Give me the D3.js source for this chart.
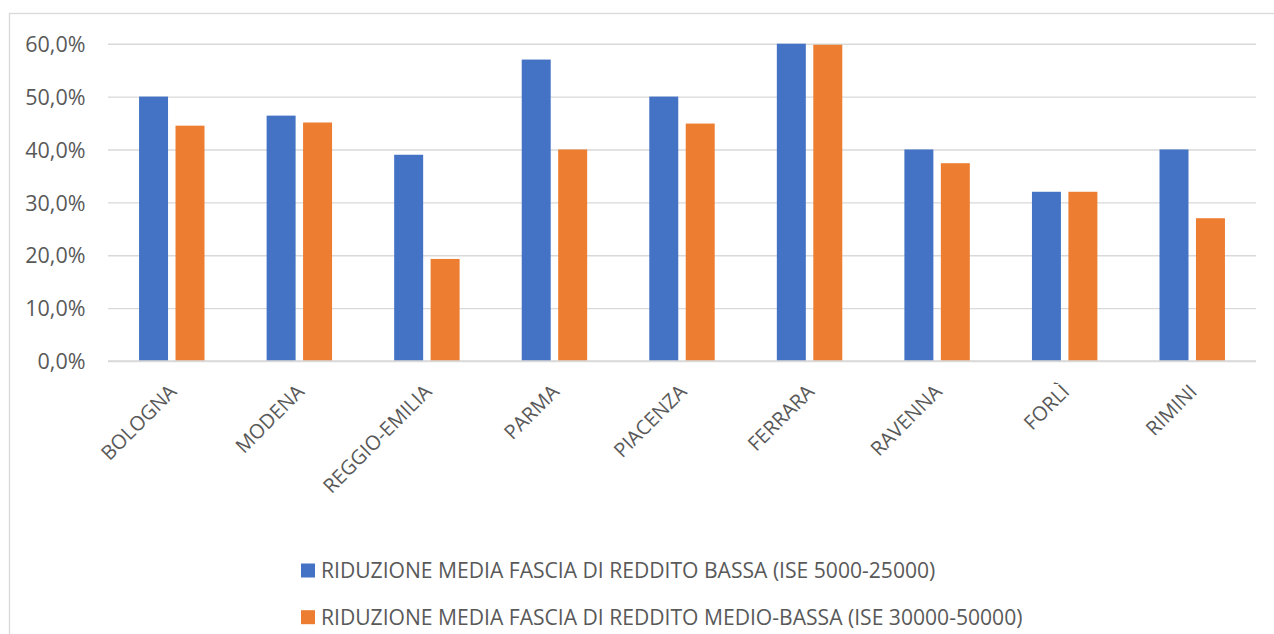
<!DOCTYPE html>
<html>
<head>
<meta charset="utf-8">
<script src="https://cdn.jsdelivr.net/npm/d3@7"></script>
<style>
  html, body { margin: 0; padding: 0; background: #fff; }
  svg { display: block; }
  text { font-family: "Open Sans", "Noto Sans", sans-serif; fill: #595959; }
</style>
</head>
<body>
<svg id="chart" width="1274" height="634"></svg>
<script>
const categories = ["BOLOGNA", "MODENA", "REGGIO-EMILIA", "PARMA", "PIACENZA", "FERRARA", "RAVENNA", "FORLÌ", "RIMINI"];
const seriesNames = [
  "RIDUZIONE MEDIA FASCIA DI REDDITO BASSA (ISE 5000-25000)",
  "RIDUZIONE MEDIA FASCIA DI REDDITO MEDIO-BASSA (ISE 30000-50000)"
];
const lowIncome = [0.50, 0.464, 0.39, 0.57, 0.50, 0.60, 0.40, 0.32, 0.40];
const midLowIncome = [0.445, 0.451, 0.193, 0.40, 0.449, 0.598, 0.374, 0.32, 0.27];
const yTicks = [0, 0.1, 0.2, 0.3, 0.4, 0.5, 0.6];
const colors = ["#4472C4", "#ED7D31"];

const svg = d3.select("#chart");

// chart border
svg.append("rect")
  .attr("x", 9.5).attr("y", 13.5)
  .attr("width", 1274).attr("height", 640)
  .attr("fill", "none").attr("stroke", "#d9d9d9").attr("stroke-width", 1.3);

const pLeft = 108, pRight = 1256, pTop = 43.7, pBottom = 361;

const x0 = d3.scaleBand().domain(categories).range([pLeft, pRight])
  .paddingInner(0.487).paddingOuter(0.2435);
const x1 = d3.scaleBand().domain([0, 1]).range([0, x0.bandwidth()]).paddingInner(0.205);
const y = d3.scaleLinear().domain([0, 0.6]).range([pBottom, pTop]);

const fmt = v => d3.format(".1f")(v * 100).replace(".", ",") + "%";

// gridlines
const yAxisGrid = d3.axisLeft(y).tickValues(yTicks).tickSize(-(pRight - pLeft)).tickFormat("");
const gGrid = svg.append("g").attr("transform", `translate(${pLeft},0)`).call(yAxisGrid);
gGrid.select(".domain").remove();
gGrid.selectAll("line").attr("stroke", "#d9d9d9").attr("stroke-width", 1.4);

// y labels
const yAxisLabels = d3.axisLeft(y).tickValues(yTicks).tickSize(0).tickFormat(fmt);
const gY = svg.append("g").attr("transform", `translate(85.5,0)`).call(yAxisLabels);
gY.select(".domain").remove();
gY.selectAll("text").attr("font-size", 21.5).attr("fill", "#595959")
  .attr("x", 0).attr("dy", "0.36em");

// bars
const data = categories.map((c, i) => ({ cat: c, vals: [lowIncome[i], midLowIncome[i]] }));
const groups = svg.append("g").selectAll("g").data(data).join("g")
  .attr("transform", d => `translate(${x0(d.cat)},0)`);
groups.selectAll("rect").data(d => d.vals.map((v, k) => ({ v, k }))).join("rect")
  .attr("x", d => x1(d.k))
  .attr("y", d => y(d.v))
  .attr("width", x1.bandwidth())
  .attr("height", d => y(0) - y(d.v))
  .attr("fill", d => colors[d.k]);

// zero line on top
svg.append("line").attr("x1", pLeft).attr("x2", pRight).attr("y1", y(0)).attr("y2", y(0))
  .attr("stroke", "#d9d9d9").attr("stroke-width", 1.4);

// x labels
const xAxis = d3.axisBottom(x0).tickSize(0).tickPadding(0);
const gX = svg.append("g").attr("transform", `translate(0,${pBottom})`).call(xAxis);
gX.select(".domain").remove();
gX.selectAll("text")
  .attr("font-size", 20)
  .attr("fill", "#595959")
  .attr("text-anchor", "end")
  .attr("dy", 0).attr("y", 0)
  .attr("transform", "translate(6,32) rotate(-45)");

// legend
const legend = svg.append("g");
seriesNames.forEach((name, i) => {
  const ly = 570.5 + i * 46.7;
  legend.append("rect").attr("x", 301).attr("y", ly - 7).attr("width", 14).attr("height", 14).attr("fill", colors[i]);
  legend.append("text").attr("x", 321).attr("y", ly).attr("dy", "0.36em")
    .attr("font-size", 21.1).text(name);
});
</script>
</body>
</html>
